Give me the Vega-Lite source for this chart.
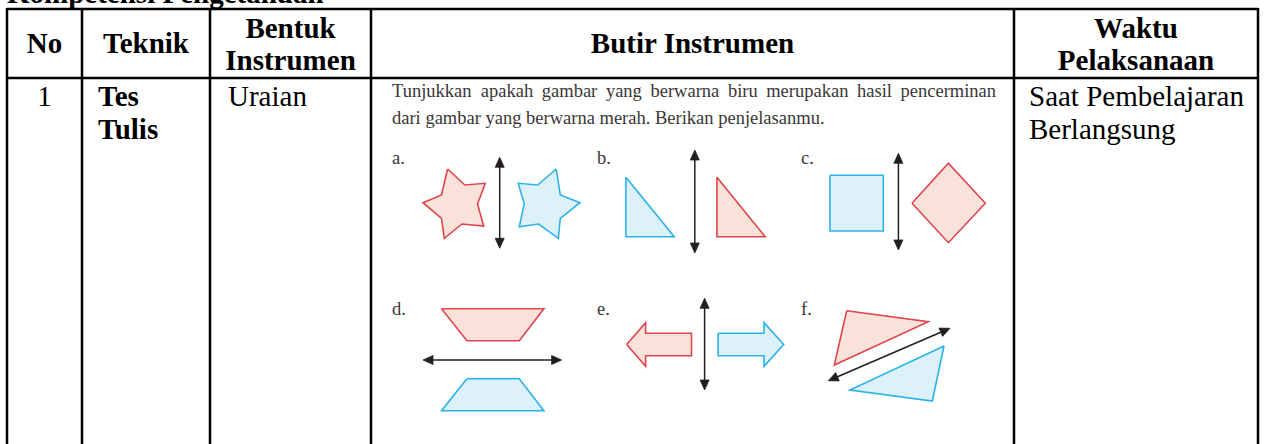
{
  "$schema": "https://vega.github.io/schema/vega-lite/v6.json",
  "width": 1264,
  "height": 444,
  "padding": 0,
  "autosize": {"type": "fit", "contains": "padding"},
  "background": "white",
  "config": {"view": {"stroke": null}},
  "datasets": {
    "grid": [
      {"x": 7, "y": 9, "x2": 1258, "y2": 9},
      {"x": 7, "y": 78, "x2": 1258, "y2": 78},
      {"x": 7, "y": 8, "x2": 7, "y2": 444},
      {"x": 82, "y": 8, "x2": 82, "y2": 444},
      {"x": 210, "y": 8, "x2": 210, "y2": 444},
      {"x": 371, "y": 8, "x2": 371, "y2": 444},
      {"x": 1014, "y": 8, "x2": 1014, "y2": 444},
      {"x": 1258, "y": 8, "x2": 1258, "y2": 444}
    ],
    "shapes": [
      {"shape": "ra", "kind": "red", "ord": 1, "x": 447.6, "y": 169},
      {"shape": "ra", "kind": "red", "ord": 2, "x": 464.8, "y": 185},
      {"shape": "ra", "kind": "red", "ord": 3, "x": 485.3, "y": 183.3},
      {"shape": "ra", "kind": "red", "ord": 4, "x": 477.5, "y": 204},
      {"shape": "ra", "kind": "red", "ord": 5, "x": 483.7, "y": 226},
      {"shape": "ra", "kind": "red", "ord": 6, "x": 462, "y": 224},
      {"shape": "ra", "kind": "red", "ord": 7, "x": 444.3, "y": 238.3},
      {"shape": "ra", "kind": "red", "ord": 8, "x": 441.5, "y": 218.3},
      {"shape": "ra", "kind": "red", "ord": 9, "x": 423, "y": 202.7},
      {"shape": "ra", "kind": "red", "ord": 10, "x": 441.5, "y": 195},
      {"shape": "ra", "kind": "red", "ord": 11, "x": 447.6, "y": 169},
      {"shape": "ba", "kind": "blue", "ord": 1, "x": 556.2, "y": 169},
      {"shape": "ba", "kind": "blue", "ord": 2, "x": 537.8, "y": 185},
      {"shape": "ba", "kind": "blue", "ord": 3, "x": 518.1, "y": 183.3},
      {"shape": "ba", "kind": "blue", "ord": 4, "x": 524.3, "y": 203.3},
      {"shape": "ba", "kind": "blue", "ord": 5, "x": 519.3, "y": 226.7},
      {"shape": "ba", "kind": "blue", "ord": 6, "x": 538.6, "y": 224},
      {"shape": "ba", "kind": "blue", "ord": 7, "x": 558.3, "y": 238.3},
      {"shape": "ba", "kind": "blue", "ord": 8, "x": 560.3, "y": 218.3},
      {"shape": "ba", "kind": "blue", "ord": 9, "x": 580, "y": 202.7},
      {"shape": "ba", "kind": "blue", "ord": 10, "x": 560.3, "y": 195},
      {"shape": "ba", "kind": "blue", "ord": 11, "x": 556.2, "y": 169},
      {"shape": "bb", "kind": "blue", "ord": 1, "x": 625.9, "y": 177.3},
      {"shape": "bb", "kind": "blue", "ord": 2, "x": 625.9, "y": 236.7},
      {"shape": "bb", "kind": "blue", "ord": 3, "x": 674.3, "y": 236.7},
      {"shape": "bb", "kind": "blue", "ord": 4, "x": 625.9, "y": 177.3},
      {"shape": "rb", "kind": "red", "ord": 1, "x": 716.9, "y": 177.3},
      {"shape": "rb", "kind": "red", "ord": 2, "x": 716.9, "y": 236.7},
      {"shape": "rb", "kind": "red", "ord": 3, "x": 765.2, "y": 236.7},
      {"shape": "rb", "kind": "red", "ord": 4, "x": 716.9, "y": 177.3},
      {"shape": "bc", "kind": "blue", "ord": 1, "x": 830, "y": 175.3},
      {"shape": "bc", "kind": "blue", "ord": 2, "x": 883.3, "y": 175.3},
      {"shape": "bc", "kind": "blue", "ord": 3, "x": 883.3, "y": 231},
      {"shape": "bc", "kind": "blue", "ord": 4, "x": 830, "y": 231},
      {"shape": "bc", "kind": "blue", "ord": 5, "x": 830, "y": 175.3},
      {"shape": "rc", "kind": "red", "ord": 1, "x": 912, "y": 203.3},
      {"shape": "rc", "kind": "red", "ord": 2, "x": 948.4, "y": 163.3},
      {"shape": "rc", "kind": "red", "ord": 3, "x": 985.3, "y": 203.3},
      {"shape": "rc", "kind": "red", "ord": 4, "x": 948.4, "y": 242.7},
      {"shape": "rc", "kind": "red", "ord": 5, "x": 912, "y": 203.3},
      {"shape": "rd", "kind": "red", "ord": 1, "x": 441.5, "y": 308.7},
      {"shape": "rd", "kind": "red", "ord": 2, "x": 543.9, "y": 308.7},
      {"shape": "rd", "kind": "red", "ord": 3, "x": 519.3, "y": 340.7},
      {"shape": "rd", "kind": "red", "ord": 4, "x": 466.9, "y": 340.7},
      {"shape": "rd", "kind": "red", "ord": 5, "x": 441.5, "y": 308.7},
      {"shape": "bd", "kind": "blue", "ord": 1, "x": 466.9, "y": 378.7},
      {"shape": "bd", "kind": "blue", "ord": 2, "x": 519.3, "y": 378.7},
      {"shape": "bd", "kind": "blue", "ord": 3, "x": 543.9, "y": 410.7},
      {"shape": "bd", "kind": "blue", "ord": 4, "x": 441.5, "y": 410.7},
      {"shape": "bd", "kind": "blue", "ord": 5, "x": 466.9, "y": 378.7},
      {"shape": "re", "kind": "red", "ord": 1, "x": 626.7, "y": 344.5},
      {"shape": "re", "kind": "red", "ord": 2, "x": 645.6, "y": 322.7},
      {"shape": "re", "kind": "red", "ord": 3, "x": 645.6, "y": 333.3},
      {"shape": "re", "kind": "red", "ord": 4, "x": 691.5, "y": 333.3},
      {"shape": "re", "kind": "red", "ord": 5, "x": 691.5, "y": 355.7},
      {"shape": "re", "kind": "red", "ord": 6, "x": 645.6, "y": 355.7},
      {"shape": "re", "kind": "red", "ord": 7, "x": 645.6, "y": 366.3},
      {"shape": "re", "kind": "red", "ord": 8, "x": 626.7, "y": 344.5},
      {"shape": "be", "kind": "blue", "ord": 1, "x": 718.1, "y": 333.3},
      {"shape": "be", "kind": "blue", "ord": 2, "x": 764, "y": 333.3},
      {"shape": "be", "kind": "blue", "ord": 3, "x": 764, "y": 322.7},
      {"shape": "be", "kind": "blue", "ord": 4, "x": 783.7, "y": 344.5},
      {"shape": "be", "kind": "blue", "ord": 5, "x": 764, "y": 366.3},
      {"shape": "be", "kind": "blue", "ord": 6, "x": 764, "y": 355.7},
      {"shape": "be", "kind": "blue", "ord": 7, "x": 718.1, "y": 355.7},
      {"shape": "be", "kind": "blue", "ord": 8, "x": 718.1, "y": 333.3},
      {"shape": "rf", "kind": "red", "ord": 1, "x": 846.7, "y": 310.7},
      {"shape": "rf", "kind": "red", "ord": 2, "x": 928.3, "y": 321.7},
      {"shape": "rf", "kind": "red", "ord": 3, "x": 834.3, "y": 365},
      {"shape": "rf", "kind": "red", "ord": 4, "x": 846.7, "y": 310.7},
      {"shape": "bf", "kind": "blue", "ord": 1, "x": 944, "y": 346},
      {"shape": "bf", "kind": "blue", "ord": 2, "x": 932.3, "y": 401},
      {"shape": "bf", "kind": "blue", "ord": 3, "x": 850, "y": 390},
      {"shape": "bf", "kind": "blue", "ord": 4, "x": 944, "y": 346}
    ],
    "heads": [
      {"shape": "a1", "ord": 1, "x": 499.7, "y": 157.3},
      {"shape": "a1", "ord": 2, "x": 495.2, "y": 167.3},
      {"shape": "a1", "ord": 3, "x": 504.2, "y": 167.3},
      {"shape": "a1", "ord": 4, "x": 499.7, "y": 157.3},
      {"shape": "a2", "ord": 1, "x": 499.7, "y": 248.3},
      {"shape": "a2", "ord": 2, "x": 495.2, "y": 238.3},
      {"shape": "a2", "ord": 3, "x": 504.2, "y": 238.3},
      {"shape": "a2", "ord": 4, "x": 499.7, "y": 248.3},
      {"shape": "b1", "ord": 1, "x": 694.8, "y": 150},
      {"shape": "b1", "ord": 2, "x": 690.3, "y": 160},
      {"shape": "b1", "ord": 3, "x": 699.3, "y": 160},
      {"shape": "b1", "ord": 4, "x": 694.8, "y": 150},
      {"shape": "b2", "ord": 1, "x": 694.8, "y": 253},
      {"shape": "b2", "ord": 2, "x": 690.3, "y": 243},
      {"shape": "b2", "ord": 3, "x": 699.3, "y": 243},
      {"shape": "b2", "ord": 4, "x": 694.8, "y": 253},
      {"shape": "c1", "ord": 1, "x": 898.4, "y": 153.3},
      {"shape": "c1", "ord": 2, "x": 893.9, "y": 163.3},
      {"shape": "c1", "ord": 3, "x": 902.9, "y": 163.3},
      {"shape": "c1", "ord": 4, "x": 898.4, "y": 153.3},
      {"shape": "c2", "ord": 1, "x": 898.4, "y": 250},
      {"shape": "c2", "ord": 2, "x": 893.9, "y": 240},
      {"shape": "c2", "ord": 3, "x": 902.9, "y": 240},
      {"shape": "c2", "ord": 4, "x": 898.4, "y": 250},
      {"shape": "d1", "ord": 1, "x": 423, "y": 360},
      {"shape": "d1", "ord": 2, "x": 433, "y": 355.5},
      {"shape": "d1", "ord": 3, "x": 433, "y": 364.5},
      {"shape": "d1", "ord": 4, "x": 423, "y": 360},
      {"shape": "d2", "ord": 1, "x": 561.6, "y": 360},
      {"shape": "d2", "ord": 2, "x": 551.6, "y": 355.5},
      {"shape": "d2", "ord": 3, "x": 551.6, "y": 364.5},
      {"shape": "d2", "ord": 4, "x": 561.6, "y": 360},
      {"shape": "e1", "ord": 1, "x": 704.6, "y": 298.3},
      {"shape": "e1", "ord": 2, "x": 700.1, "y": 308.3},
      {"shape": "e1", "ord": 3, "x": 709.1, "y": 308.3},
      {"shape": "e1", "ord": 4, "x": 704.6, "y": 298.3},
      {"shape": "e2", "ord": 1, "x": 704.6, "y": 390},
      {"shape": "e2", "ord": 2, "x": 700.1, "y": 380},
      {"shape": "e2", "ord": 3, "x": 709.1, "y": 380},
      {"shape": "e2", "ord": 4, "x": 704.6, "y": 390},
      {"shape": "f1", "ord": 1, "x": 950, "y": 328.3},
      {"shape": "f1", "ord": 2, "x": 942.6, "y": 336.4},
      {"shape": "f1", "ord": 3, "x": 939, "y": 328.1},
      {"shape": "f1", "ord": 4, "x": 950, "y": 328.3},
      {"shape": "f2", "ord": 1, "x": 828.3, "y": 380.7},
      {"shape": "f2", "ord": 2, "x": 839.3, "y": 380.9},
      {"shape": "f2", "ord": 3, "x": 835.7, "y": 372.6},
      {"shape": "f2", "ord": 4, "x": 828.3, "y": 380.7}
    ],
    "shafts": [
      {"x": 499.7, "y": 162, "x2": 499.7, "y2": 243},
      {"x": 694.8, "y": 155, "x2": 694.8, "y2": 248},
      {"x": 898.4, "y": 158, "x2": 898.4, "y2": 245},
      {"x": 428, "y": 360, "x2": 556.6, "y2": 360},
      {"x": 704.6, "y": 303, "x2": 704.6, "y2": 385},
      {"x": 832.9, "y": 378.7, "x2": 945.4, "y2": 330.3}
    ],
    "texts": [
      {"style": "boldL", "text": "Kompetensi Pengetahuan", "x": 7, "y": 3},
      {"style": "boldC", "text": "No", "x": 44.5, "y": 53},
      {"style": "boldC", "text": "Teknik", "x": 146, "y": 53},
      {"style": "boldC", "text": "Bentuk", "x": 290.5, "y": 38},
      {"style": "boldC", "text": "Instrumen", "x": 290.5, "y": 70},
      {"style": "boldC", "text": "Butir Instrumen", "x": 692.5, "y": 53},
      {"style": "boldC", "text": "Waktu", "x": 1136, "y": 38},
      {"style": "boldC", "text": "Pelaksanaan", "x": 1136, "y": 70},
      {"style": "regC", "text": "1", "x": 44.5, "y": 106},
      {"style": "boldL", "text": "Tes", "x": 98, "y": 106},
      {"style": "boldL", "text": "Tulis", "x": 98, "y": 139},
      {"style": "regL", "text": "Uraian", "x": 228, "y": 106},
      {"style": "regL", "text": "Saat Pembelajaran", "x": 1029, "y": 106},
      {"style": "regL", "text": "Berlangsung", "x": 1029, "y": 139},
      {"style": "pic", "text": "Tunjukkan", "x": 392, "y": 97},
      {"style": "pic", "text": "apakah", "x": 480.8, "y": 97},
      {"style": "pic", "text": "gambar", "x": 541.8, "y": 97},
      {"style": "pic", "text": "yang", "x": 605.9, "y": 97},
      {"style": "pic", "text": "berwarna", "x": 650.5, "y": 97},
      {"style": "pic", "text": "biru", "x": 727.9, "y": 97},
      {"style": "pic", "text": "merupakan", "x": 766.2, "y": 97},
      {"style": "pic", "text": "hasil", "x": 857, "y": 97},
      {"style": "pic", "text": "pencerminan", "x": 900.5, "y": 97},
      {"style": "pic", "text": "dari gambar yang berwarna merah. Berikan penjelasanmu.", "x": 392, "y": 124},
      {"style": "pic", "text": "a.", "x": 392, "y": 164},
      {"style": "pic", "text": "b.", "x": 597, "y": 164},
      {"style": "pic", "text": "c.", "x": 801, "y": 164},
      {"style": "pic", "text": "d.", "x": 392, "y": 315},
      {"style": "pic", "text": "e.", "x": 597, "y": 315},
      {"style": "pic", "text": "f.", "x": 801, "y": 315}
    ]
  },
  "encoding": {
    "x": {"field": "x", "type": "quantitative", "scale": {"domain": [0, 1264], "nice": false, "zero": false}, "axis": null},
    "y": {"field": "y", "type": "quantitative", "scale": {"domain": [0, 444], "reverse": true, "nice": false, "zero": false}, "axis": null}
  },
  "layer": [
    {
      "data": {"name": "shapes"},
      "transform": [{"filter": "datum.kind === 'red'"}],
      "mark": {"type": "line", "fill": "#f9e2da", "stroke": "#e0444d", "strokeWidth": 1.6, "clip": true},
      "encoding": {"detail": {"field": "shape"}, "order": {"field": "ord", "type": "quantitative"}}
    },
    {
      "data": {"name": "shapes"},
      "transform": [{"filter": "datum.kind === 'blue'"}],
      "mark": {"type": "line", "fill": "#ddf1fa", "stroke": "#2bb3e9", "strokeWidth": 1.6, "clip": true},
      "encoding": {"detail": {"field": "shape"}, "order": {"field": "ord", "type": "quantitative"}}
    },
    {
      "data": {"name": "shafts"},
      "mark": {"type": "rule", "stroke": "#231f20", "strokeWidth": 1.5, "clip": true},
      "encoding": {"x2": {"field": "x2"}, "y2": {"field": "y2"}}
    },
    {
      "data": {"name": "heads"},
      "mark": {"type": "line", "fill": "#231f20", "stroke": "#231f20", "strokeWidth": 0.8, "clip": true},
      "encoding": {"detail": {"field": "shape"}, "order": {"field": "ord", "type": "quantitative"}}
    },
    {
      "data": {"name": "grid"},
      "mark": {"type": "rule", "stroke": "#000000", "strokeWidth": 2.5, "clip": true},
      "encoding": {"x2": {"field": "x2"}, "y2": {"field": "y2"}}
    },
    {
      "data": {"name": "texts"},
      "transform": [{"filter": "datum.style === 'boldC'"}],
      "mark": {"type": "text", "font": "Liberation Serif", "fontWeight": "bold", "fontSize": 29, "align": "center", "baseline": "alphabetic", "color": "#000000", "clip": true},
      "encoding": {"text": {"field": "text"}}
    },
    {
      "data": {"name": "texts"},
      "transform": [{"filter": "datum.style === 'boldL'"}],
      "mark": {"type": "text", "font": "Liberation Serif", "fontWeight": "bold", "fontSize": 29, "align": "left", "baseline": "alphabetic", "color": "#000000", "clip": true},
      "encoding": {"text": {"field": "text"}}
    },
    {
      "data": {"name": "texts"},
      "transform": [{"filter": "datum.style === 'regC'"}],
      "mark": {"type": "text", "font": "Liberation Serif", "fontSize": 29, "align": "center", "baseline": "alphabetic", "color": "#000000", "clip": true},
      "encoding": {"text": {"field": "text"}}
    },
    {
      "data": {"name": "texts"},
      "transform": [{"filter": "datum.style === 'regL'"}],
      "mark": {"type": "text", "font": "Liberation Serif", "fontSize": 29, "align": "left", "baseline": "alphabetic", "color": "#000000", "clip": true},
      "encoding": {"text": {"field": "text"}}
    },
    {
      "data": {"name": "texts"},
      "transform": [{"filter": "datum.style === 'pic'"}],
      "mark": {"type": "text", "font": "Liberation Serif", "fontSize": 18.5, "align": "left", "baseline": "alphabetic", "color": "#3a3636", "clip": true},
      "encoding": {"text": {"field": "text"}}
    }
  ]
}
